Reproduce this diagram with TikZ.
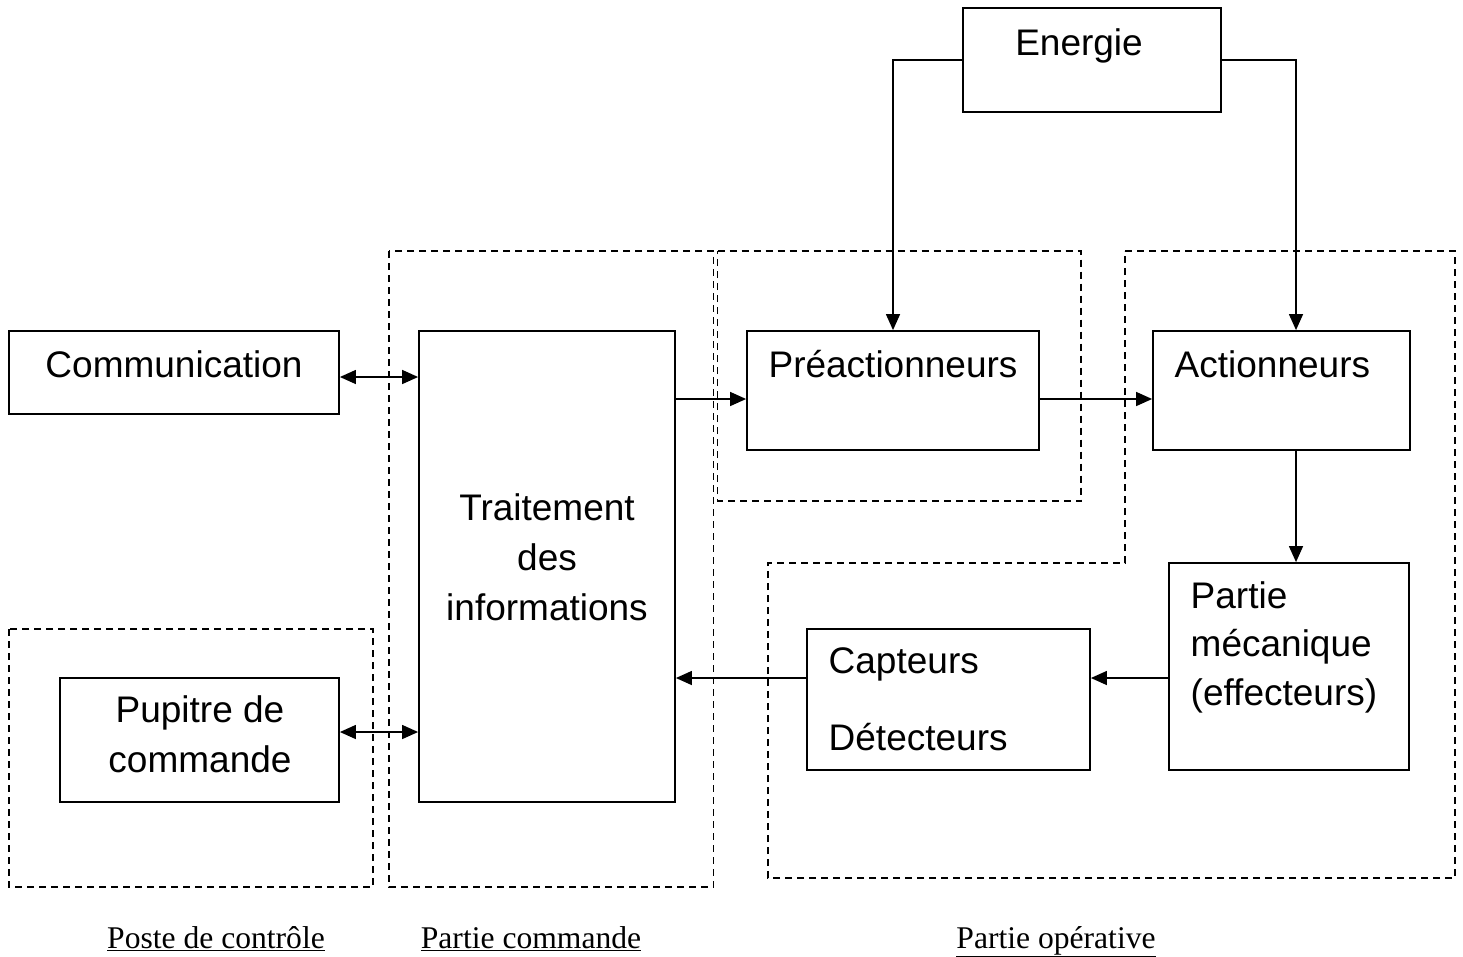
\documentclass[tikz,border=0pt]{standalone}
\usepackage{fontspec}
\setmainfont{Liberation Sans}
\newfontfamily\zonefont{Liberation Serif}
\usetikzlibrary{arrows.meta}
\tikzset{
  sc/.style={x=1pt,y=-1pt,line width=1.4pt},
  bloc/.style={draw,line width=1.8pt,inner sep=0pt},
  txt/.style={font=\fontsize{37}{49}\selectfont,anchor=base,inner sep=0pt},
  zone/.style={line width=1.4pt,dash pattern=on 7pt off 5pt},
  fl/.style={-{Triangle[length=16pt,width=14pt]}},
  dfl/.style={{Triangle[length=16pt,width=14pt]}-{Triangle[length=16pt,width=14pt]}},
  nom/.style={font=\zonefont\fontsize{31.6}{36}\selectfont,anchor=base,inner sep=0pt}
}
\begin{document}
\begin{tikzpicture}[sc]
  \useasboundingbox (0,0) rectangle (1463,956);
  % zones
  \draw[zone] (9,629) rectangle (373,887);
  \draw[zone] (389,251) rectangle (713.5,887);
  \draw[zone] (717.5,251)--(1081,251)--(1081,501)--(717.5,501)--cycle;
  \draw[zone] (1125,251)--(1455,251)--(1455,878)--(768,878)--(768,563)--(1125,563)--cycle;
  % blocs
  \node[bloc,minimum width=258,minimum height=104] (energie) at (1092,60) {};
  \node[bloc,minimum width=330,minimum height=83] (com) at (174,372.5) {};
  \node[bloc,minimum width=256,minimum height=471] (trt) at (547,566.5) {};
  \node[bloc,minimum width=292,minimum height=119] (pre) at (893,390.5) {};
  \node[bloc,minimum width=257,minimum height=119] (act) at (1281.5,390.5) {};
  \node[bloc,minimum width=240,minimum height=207] (meca) at (1289,666.5) {};
  \node[bloc,minimum width=283,minimum height=141] (capt) at (948.5,699.5) {};
  \node[bloc,minimum width=279,minimum height=124] (pup) at (199.5,740) {};
  % textes (base = derniere ligne)
  \node[txt] (tEnergie) at (1079,55) {Energie};
  \node[txt] (tCom) at (174,377) {Communication};
  \node[txt,align=center,font=\fontsize{37}{50}\selectfont] (tTrt) at (547,620) {Traitement\\des\\informations};
  \node[txt] (tPre) at (893,377) {Préactionneurs};
  \node[txt,anchor=base west] (tAct) at (1174,377) {Actionneurs};
  \node[txt,anchor=base west,align=left,font=\fontsize{37}{48.5}\selectfont] (tMeca) at (1190,705) {Partie\\mécanique\\(effecteurs)};
  \node[txt,anchor=base west] (tCapt) at (828,673) {Capteurs};
  \node[txt,anchor=base west] (tDet) at (828,750) {Détecteurs};
  \node[txt,align=center,font=\fontsize{37}{50}\selectfont] (tPup) at (200,772) {Pupitre de\\commande};
  % liaisons
  \draw[dfl] ([yshift=-4.5pt]com.east) -- ([yshift=-4.5pt]com.east -| trt.west);
  \draw[dfl] ([yshift=8pt]pup.east) -- ([yshift=8pt]pup.east -| trt.west);
  \draw[fl] ([yshift=-8.5pt]pre.west -| trt.east) -- ([yshift=-8.5pt]pre.west);
  \draw[fl] ([yshift=-8.5pt]pre.east) -- ([yshift=-8.5pt]act.west);
  \draw[fl] ([xshift=14.5pt]act.south) -- ([xshift=14.5pt]act.south |- meca.north);
  \draw[fl] ([yshift=-11.5pt]meca.west) -- ([yshift=-11.5pt]meca.west -| capt.east);
  \draw[fl] ([yshift=21.5pt]capt.west) -- ([yshift=21.5pt]capt.west -| trt.east);
  \draw[fl] (energie.west) -| (pre.north);
  \draw[fl] (energie.east) -| ([xshift=14.5pt]act.north);
  % legendes
  \node[nom] (lPoste) at (216,948) {\underline{Poste de contrôle}};
  \node[nom] (lCmd) at (531,948) {\underline{Partie commande}};
  \node[nom] (lOp) at (1056,948) {\underline{Partie opérative}};
\end{tikzpicture}
\end{document}
